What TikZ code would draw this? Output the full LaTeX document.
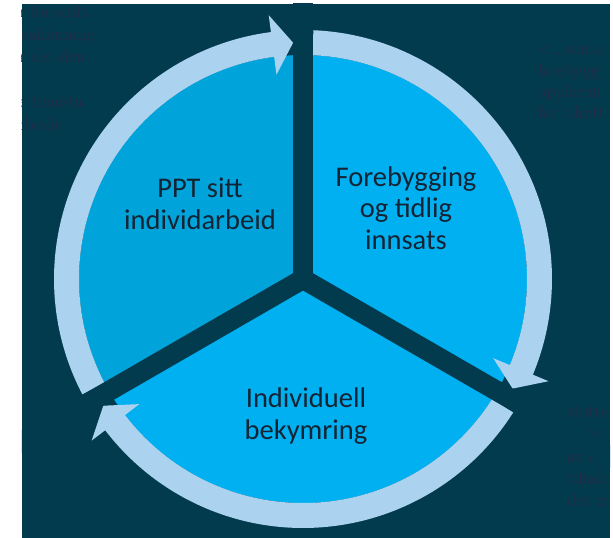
\documentclass[tikz,border=0pt]{standalone}
\usepackage{fontspec}
\newfontfamily\sectorfont{Carlito}
\definecolor{bgdark}{RGB}{3,59,78}
\definecolor{ringblue}{RGB}{171,211,239}
\definecolor{pieleft}{RGB}{0,163,218}
\definecolor{pieblue}{RGB}{0,176,240}
\definecolor{labelnavy}{RGB}{20,36,52}
\definecolor{hiddentext}{RGB}{40,42,74}

\begin{document}
\begin{tikzpicture}
  [x=1pt,y=1pt]

  \tikzstyle{sectortext} = [align=center, text=labelnavy,
                            font=\sectorfont\fontsize{28.5}{31.5}\selectfont]
  \tikzstyle{faint} = [anchor=base west, inner sep=0pt, text=hiddentext,
                       font=\fontsize{18}{22}\selectfont]

  \useasboundingbox (-303,-259) rectangle (310,279);
  \fill[bgdark] (-281,-259) rectangle (307,275);

  \begin{scope}
  \clip (-281,-259) rectangle (307,275);

  % notes behind the wheel
  \node[faint] (noteA1) at (-284,261) {r forskrift};
  \node[faint] (noteA2) at (-281,238) {sakkunnig};
  \node[faint] (noteA3) at (-284,216) {r det den};
  \node[faint] (noteA4) at (-284,171) {e tenesta};
  \node[faint] (noteA5) at (-285,148) {rbeide};

  \node[faint] (noteB1) at (235,224) {«....sama};
  \node[faint] (noteB2) at (235,202) {forebygg};
  \node[faint] (noteB3) at (235,181) {opplærin};
  \node[faint] (noteB4) at (235,160) {for tilrett};

  \node[faint] (noteC0) at (235,-138) {a.};
  \node[faint] (noteC1) at (264,-138) {støtte};
  \node[faint] (noteC2) at (264,-160) {greie};
  \node[faint] (noteC3) at (264,-183) {av op};
  \node[faint] (noteC4) at (264,-205) {tiltak};
  \node[faint] (noteC5) at (264,-227) {det tr};

  % sectors
  \fill[pieleft] (0,0) -- (90:224) arc[start angle=90, end angle=210, radius=224] -- cycle;
  \fill[pieblue] (0,0) -- (210:224) arc[start angle=210, end angle=450, radius=224] -- cycle;

  % arrows, clockwise
  \foreach \a in {90,330,210} {
    \pgfmathsetmacro\s{\a+117.6}
    \pgfmathsetmacro\t{\a+2.4}
    \pgfmathsetmacro\b{\a+7.4}
    \fill[ringblue] (\s:249) arc[start angle=\s, end angle=\b, radius=249]
      -- (\b:266) -- (\t:236.5) -- (\b:206) -- (\b:224)
      arc[start angle=\b, end angle=\s, radius=224] -- cycle;
  }

  % dividers
  \foreach \a in {90,210,330}
    \draw[bgdark, line width=20pt] (0,0) -- (\a:400);
  \end{scope}

  \node[sectortext] (ppt)         at (-103,75)  {PPT sitt\\individarbeid};
  \node[sectortext] (forebygging) at (103,71)   {Forebygging\\og tidlig\\innsats};
  \node[sectortext] (bekymring)   at (3,-137)   {Individuell\\bekymring};
\end{tikzpicture}
\end{document}
